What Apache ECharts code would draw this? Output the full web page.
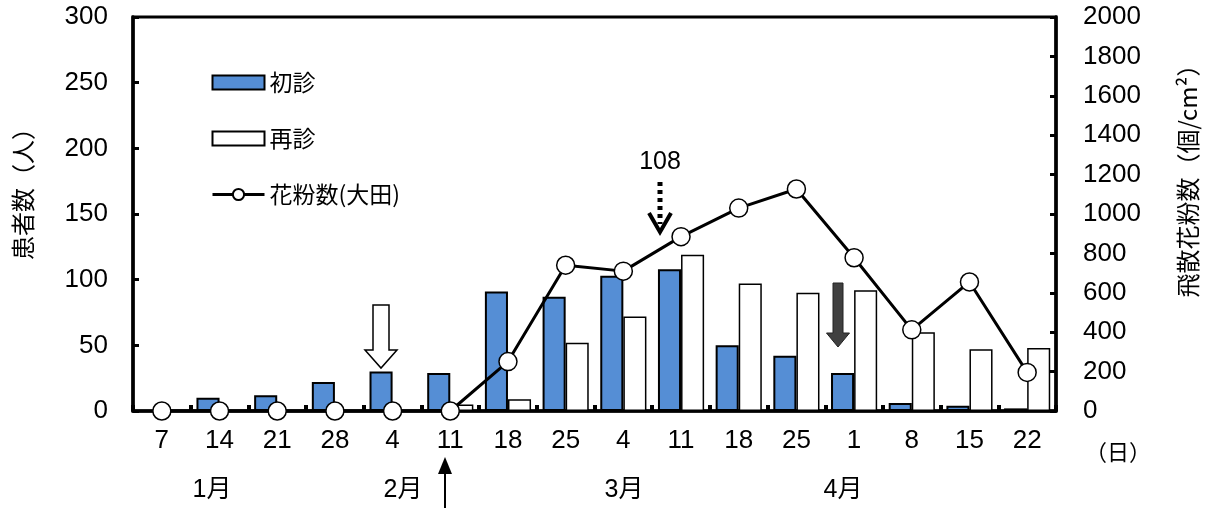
<!DOCTYPE html>
<html>
<head>
<meta charset="utf-8">
<script src="https://cdn.jsdelivr.net/npm/echarts@6/dist/echarts.min.js"></script>
<style>
html,body{margin:0;padding:0;background:#fff;}
#main{width:1209px;height:508px;}
</style>
</head>
<body>
<div id="main"></div>
<script>
// categories (weekly dates, Jan–Apr)
var categories = ['1/7','1/14','1/21','1/28','2/4','2/11','2/18','2/25','3/4','3/11','3/18','3/25','4/1','4/8','4/15','4/22'];
var dayLabels = ['7','14','21','28','4','11','18','25','4','11','18','25','1','8','15','22'];
var monthLabels = ['1月','2月','3月','4月'];
// 初診 (first visit patients)
var firstVisit = [0,10,12,22,30,29,91,87,103,108,50,42,29,6,4,2];
// 再診 (return visit patients)
var returnVisit = [0,0,0,0,0,5,9,52,72,119,97,90,92,60,47,48];
// 花粉数(大田) (pollen count, right axis)
var pollen = [0,0,0,0,0,0,251,740,710,885,1030,1127,778,412,655,196];
var leftTicks = {min:0,max:300,interval:50};
var rightTicks = {min:0,max:2000,interval:200};

var FONT = '"Liberation Sans","Noto Sans CJK JP",sans-serif';
var JFONT = '"Noto Sans CJK JP","Liberation Sans",sans-serif';

var chart = echarts.init(document.getElementById('main'));
chart.setOption({
  animation:false,
  backgroundColor:'#fff',
  grid:{left:133,right:153,top:17,bottom:97,show:true,borderColor:'#000',borderWidth:3,backgroundColor:'transparent'},
  legend:{
    orient:'vertical',left:206,top:66,itemWidth:52,itemHeight:14,itemGap:33,
    textStyle:{fontSize:23,fontFamily:JFONT,color:'#000'},
    lineStyle:{width:3},
    data:[{name:'初診',icon:'rect'},{name:'再診',icon:'rect'},{name:'花粉数(大田)'}]
  },
  xAxis:{
    type:'category',data:categories,boundaryGap:true,
    axisLine:{lineStyle:{color:'#000',width:3.5}},
    axisTick:{show:true,inside:true,length:6,interval:0,lineStyle:{color:'#000',width:4}},
    axisLabel:{interval:0,fontSize:26,fontFamily:FONT,color:'#000',margin:17,
      formatter:function(v,i){return dayLabels[i];}},
    splitLine:{show:false}
  },
  yAxis:[{
    type:'value',min:leftTicks.min,max:leftTicks.max,interval:leftTicks.interval,
    name:'患者数（人）',nameLocation:'middle',nameRotate:90,nameGap:98,
    nameTextStyle:{fontSize:24,fontFamily:JFONT,color:'#000',padding:[0,0,0,52]},
    axisLine:{show:true,lineStyle:{color:'#000',width:3.5}},
    axisTick:{show:true,inside:true,length:6,lineStyle:{color:'#000',width:3}},
    axisLabel:{fontSize:26,fontFamily:FONT,color:'#000',margin:25,formatter:function(v){return String(v);}},
    splitLine:{show:false}
  },{
    type:'value',min:rightTicks.min,max:rightTicks.max,interval:rightTicks.interval,position:'right',
    name:'飛散花粉数（個/cm²）',nameLocation:'middle',nameRotate:90,nameGap:120,
    nameTextStyle:{fontSize:24,fontFamily:JFONT,color:'#000',padding:[0,0,0,78]},
    axisLine:{show:true,lineStyle:{color:'#000',width:3.5}},
    axisTick:{show:true,inside:true,length:6,lineStyle:{color:'#000',width:3}},
    axisLabel:{fontSize:26,fontFamily:FONT,color:'#000',margin:27,formatter:function(v){return String(v);}},
    splitLine:{show:false}
  }],
  series:[{
    name:'初診',type:'bar',yAxisIndex:0,data:firstVisit,barWidth:'40%',barGap:'0%',
    itemStyle:{color:'#558ed5',borderColor:'#000',borderWidth:2}
  },{
    name:'再診',type:'bar',yAxisIndex:0,data:returnVisit,barWidth:'40%',barGap:'0%',
    itemStyle:{color:'#fff',borderColor:'#000',borderWidth:1.5}
  },{
    name:'花粉数(大田)',type:'line',yAxisIndex:1,data:pollen,
    symbol:'circle',symbolSize:18,z:5,
    lineStyle:{color:'#000',width:3},
    itemStyle:{color:'#fff',borderColor:'#000',borderWidth:1.5}
  }]
});

var monthPos = [212,403,624,843];
var graphics = [
  {type:'polygon',z:20,shape:{points:[[373,305],[389,305],[389,350],[397,350],[381,368],[365,350],[373,350]]},
   style:{fill:'#fff',stroke:'#000',lineWidth:1.5}},
  {type:'polygon',z:20,shape:{points:[[833,283],[843,283],[843,333],[849.5,333],[838,347],[826.5,333],[833,333]]},
   style:{fill:'#404040',stroke:'#222',lineWidth:1}},
  {type:'line',z:20,shape:{x1:660,y1:182,x2:660,y2:224},style:{stroke:'#000',lineWidth:5,lineDash:[4,4]}},
  {type:'polyline',z:20,shape:{points:[[649,213],[660,232],[671,213]]},style:{stroke:'#000',lineWidth:4,fill:null}},
  {type:'text',z:20,x:660,y:162,style:{text:'108',fontSize:25,fontFamily:FONT,fill:'#000',align:'center',verticalAlign:'middle'}},
  {type:'line',z:20,shape:{x1:445,y1:508,x2:445,y2:472},style:{stroke:'#000',lineWidth:2}},
  {type:'polygon',z:20,shape:{points:[[445,457],[452,474],[438,474]]},style:{fill:'#000'}},
  {type:'text',z:20,x:1118,y:452,style:{text:'（日）',fontSize:22,fontFamily:JFONT,fill:'#000',align:'center',verticalAlign:'middle'}}
];
monthLabels.forEach(function(m,i){
  graphics.push({type:'text',z:20,x:monthPos[i],y:490,style:{text:m,fontSize:25,fontFamily:FONT,fill:'#000',align:'center',verticalAlign:'middle'}});
});
chart.setOption({graphic:graphics});
</script>
</body>
</html>
